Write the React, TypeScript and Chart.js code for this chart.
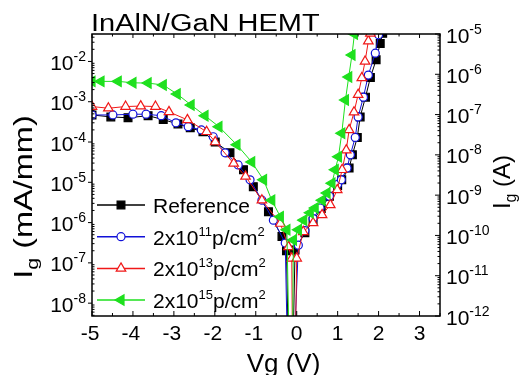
import React, { useEffect, useRef } from 'react';
import { Chart, registerables } from 'chart.js';
import { drawPoint } from 'chart.js/helpers';

Chart.register(...registerables);

const FONT = '"Liberation Sans", Arial, Helvetica, sans-serif';

// ---------- texts ----------
const TITLE = 'InAlN/GaN HEMT';
const X_TITLE = 'Vg (V)';
const Y_TITLE_LEFT = 'I_{g} (mA/mm)';
const Y_TITLE_RIGHT = 'I_{g} (A)';
const SERIES_LABELS = ['Reference', '2x10^{11}p/cm^{2}', '2x10^{13}p/cm^{2}', '2x10^{15}p/cm^{2}'];

// ---------- axes ----------
const X_MIN = -5;
const X_MAX = 3.5;
const X_TICKS = [-5, -4, -3, -2, -1, 0, 1, 2, 3];
const LEFT_MIN = 4.8e-9;
const LEFT_MAX = 4.8e-2;
const LEFT_EXP = [-8, -7, -6, -5, -4, -3, -2];
const RIGHT_MIN = 1e-12;
const RIGHT_MAX = 1e-5;
const RIGHT_EXP = [-12, -11, -10, -9, -8, -7, -6, -5];

// ---------- data (Vg in V, Ig in mA/mm) ----------
const VG_REF = [-5, -4.54, -4.12, -3.63, -3.26, -2.9, -2.6, -2.29, -1.99, -1.63, -1.3, -1.06, -0.69, -0.36, -0.25, -0.15, -0.04, 0.2, 0.4, 0.6, 0.8, 1.0, 1.1, 1.28, 1.36, 1.48, 1.55, 1.68, 1.8, 1.94, 2.04, 2.1];
const IG_REF = [4.7e-4, 4.2e-4, 4.0e-4, 4.5e-4, 3.6e-4, 2.8e-4, 2.25e-4, 1.8e-4, 1.0e-4, 5.4e-5, 2.05e-5, 7.8e-6, 1.85e-6, 4.5e-7, 2.0e-7, 1e-12, 2.1e-7, 5.6e-7, 1.1e-6, 2.25e-6, 4.5e-6, 8.3e-6, 1.15e-5, 2.25e-5, 4.8e-5, 1.3e-4, 4.2e-4, 1.3e-3, 4.0e-3, 1.1e-2, 2.8e-2, 5.0e-2];

const VG_E11 = [-5, -4.49, -4.0, -3.68, -3.31, -2.95, -2.65, -2.33, -2.04, -1.75, -1.43, -1.14, -0.85, -0.57, -0.28, -0.17, 0.04, 0.2, 0.4, 0.57, 0.8, 1.0, 1.09, 1.23, 1.31, 1.43, 1.5, 1.63, 1.75, 1.92, 2.0];
const IG_E11 = [4.7e-4, 4.7e-4, 4.9e-4, 4.9e-4, 4.5e-4, 3.0e-4, 2.4e-4, 2.0e-4, 1.35e-4, 5.4e-5, 2.7e-5, 1.15e-5, 3.6e-6, 1.15e-6, 3.1e-7, 1e-12, 2.75e-7, 6.3e-7, 1.25e-6, 2.3e-6, 4.5e-6, 8.9e-6, 1.15e-5, 2.25e-5, 4.8e-5, 1.3e-4, 4.2e-4, 1.3e-3, 4.6e-3, 1.6e-2, 4.6e-2];

const VG_E13 = [-5, -4.6, -4.18, -3.81, -3.45, -3.12, -2.67, -2.2, -1.99, -1.54, -1.25, -0.85, -0.4, -0.2, -0.12, -0.08, 0.0, 0.16, 0.4, 0.62, 0.82, 0.99, 1.11, 1.21, 1.28, 1.4, 1.5, 1.59, 1.67, 1.75, 1.8];
const IG_E13 = [7.6e-4, 6.9e-4, 7.6e-4, 7.8e-4, 7.6e-4, 5.6e-4, 3.55e-4, 1.8e-4, 1.0e-4, 2.95e-5, 1.4e-5, 3.6e-6, 9.5e-7, 2.5e-7, 1.3e-7, 1e-12, 1.3e-7, 5.9e-7, 9.8e-7, 1.55e-6, 2.75e-6, 6.5e-6, 2.05e-5, 6.3e-5, 2.0e-4, 5.5e-4, 1.5e-3, 3.9e-3, 1.0e-2, 3.2e-2, 5.0e-2];

const VG_E15 = [-5, -4.78, -4.36, -4.0, -3.63, -3.26, -2.92, -2.58, -2.24, -1.9, -1.46, -1.1, -0.81, -0.61, -0.4, -0.24, -0.13, -0.08, 0.04, 0.17, 0.33, 0.45, 0.62, 0.74, 0.86, 0.94, 1.02, 1.1, 1.19, 1.27, 1.35, 1.41];
const IG_E15 = [3.2e-3, 3.2e-3, 3.2e-3, 2.95e-3, 2.9e-3, 2.6e-3, 1.55e-3, 8.3e-4, 4.5e-4, 2.4e-4, 8.5e-5, 3.2e-5, 1.15e-5, 3.6e-6, 1.4e-6, 6.6e-7, 1e-12, 3.7e-7, 6.6e-7, 1.15e-6, 1.75e-6, 2.3e-6, 3.6e-6, 5.4e-6, 9.5e-6, 2.05e-5, 4.3e-5, 1.65e-4, 1.1e-3, 4.1e-3, 1.45e-2, 4.8e-2];

// ---------- styles ----------
const STYLES = [
  { color: '#000000', fill: '#000000', pointStyle: 'rect', radius: 5.5, rotation: 0, order: 4 },
  { color: '#1010d8', fill: '#ffffff', pointStyle: 'circle', radius: 4, rotation: 0, order: 3 },
  { color: '#f01818', fill: '#ffffff', pointStyle: 'triangle', radius: 5.5, rotation: 0, order: 2 },
  { color: '#1ee01e', fill: '#1ee01e', pointStyle: 'triangle', radius: 6, rotation: -90, order: 1 },
];

type Seg = { t: string; k: 'n' | 'sup' | 'sub' };
function parseRich(s: string): Seg[] {
  const out: Seg[] = [];
  const re = /([\^_])\{([^}]*)\}/g;
  let last = 0;
  let m: RegExpExecArray | null;
  while ((m = re.exec(s))) {
    if (m.index > last) out.push({ t: s.slice(last, m.index), k: 'n' });
    out.push({ t: m[2], k: m[1] === '^' ? 'sup' : 'sub' });
    last = re.lastIndex;
  }
  if (last < s.length) out.push({ t: s.slice(last), k: 'n' });
  return out;
}
function richWidth(ctx: CanvasRenderingContext2D, segs: Seg[], size: number, small: number) {
  let w = 0;
  for (const s of segs) {
    ctx.font = `${s.k === 'n' ? size : small}px ${FONT}`;
    w += ctx.measureText(s.t).width;
  }
  return w;
}
function drawRich(ctx: CanvasRenderingContext2D, segs: Seg[], x: number, y: number, size: number, small: number, rise: number, drop: number) {
  for (const s of segs) {
    ctx.font = `${s.k === 'n' ? size : small}px ${FONT}`;
    const dy = s.k === 'sup' ? -rise : s.k === 'sub' ? drop : 0;
    ctx.fillText(s.t, x, y + dy);
    x += ctx.measureText(s.t).width;
  }
}

const decor = {
  id: 'decor',
  afterDatasetsDraw(chart: any) {
    const ctx: CanvasRenderingContext2D = chart.ctx;
    const a = chart.chartArea;
    const xs = chart.scales.x;
    const yl = chart.scales.y;
    const yr = chart.scales.y2;
    ctx.save();
    ctx.fillStyle = '#000';
    ctx.strokeStyle = '#000';
    const seg = (x1: number, y1: number, x2: number, y2: number) => {
      ctx.beginPath();
      ctx.moveTo(x1, y1);
      ctx.lineTo(x2, y2);
      ctx.stroke();
    };
    // frame
    ctx.lineWidth = 1.5;
    ctx.strokeRect(a.left, a.top, a.right - a.left, a.bottom - a.top);
    // x ticks
    ctx.lineWidth = 1;
    for (let i = 0; i <= (X_MAX - X_MIN) * 2; i++) {
      const v = X_MIN + i * 0.5;
      const px = xs.getPixelForValue(v);
      const major = i % 2 === 0;
      seg(px, a.bottom, px, a.bottom - (major ? 5 : 3));
      seg(px, a.top, px, a.top + (major ? 4 : 2.5));
    }
    // left log ticks
    for (let k = -9; k <= -1; k++) {
      for (let m = 1; m <= 9; m++) {
        const v = m * Math.pow(10, k);
        if (v < LEFT_MIN || v > LEFT_MAX) continue;
        const py = yl.getPixelForValue(v);
        if (m === 1) seg(a.left - 4, py, a.left, py);
        else seg(a.left, py, a.left + 2.5, py);
      }
    }
    // right log ticks
    for (let k = -13; k <= -5; k++) {
      for (let m = 1; m <= 9; m++) {
        const v = m * Math.pow(10, k);
        if (v < RIGHT_MIN * 0.999 || v > RIGHT_MAX * 1.001) continue;
        const py = yr.getPixelForValue(v);
        seg(a.right - (m === 1 ? 5 : 2.5), py, a.right, py);
      }
    }
    // tick labels
    ctx.textAlign = 'left';
    ctx.textBaseline = 'alphabetic';
    for (const e of LEFT_EXP) {
      const py = yl.getPixelForValue(Math.pow(10, e));
      const segs = parseRich(`10^{${e}}`);
      const w = richWidth(ctx, segs, 21, 14);
      drawRich(ctx, segs, 86 - w, py + 8.5, 21, 14, 9, 0);
    }
    for (const e of RIGHT_EXP) {
      const py = yr.getPixelForValue(Math.pow(10, e));
      drawRich(ctx, parseRich(`10^{${e}}`), 446, py + 8.5, 21, 14, 9, 0);
    }
    ctx.textAlign = 'center';
    ctx.font = `21px ${FONT}`;
    for (const v of X_TICKS) {
      const px = xs.getPixelForValue(v);
      ctx.fillText(String(v), px - (v < 0 ? 2 : 0), 340);
    }
    // x title
    ctx.font = `26px ${FONT}`;
    ctx.fillText(X_TITLE, 283.5, 372);
    ctx.textAlign = 'left';
    // chart title
    ctx.save();
    ctx.translate(91, 31);
    ctx.scale(1.26, 1);
    ctx.font = `23px ${FONT}`;
    ctx.fillText(TITLE, 0, 0);
    ctx.restore();
    // left title
    ctx.save();
    ctx.translate(32, 197);
    ctx.rotate(-Math.PI / 2);
    ctx.scale(1.25, 1);
    {
      const segs = parseRich(Y_TITLE_LEFT);
      const w = richWidth(ctx, segs, 26, 17);
      drawRich(ctx, segs, -w / 2, 0, 26, 17, 0, 6);
    }
    ctx.restore();
    // right title
    ctx.save();
    ctx.translate(510, 182);
    ctx.rotate(-Math.PI / 2);
    {
      const segs = parseRich(Y_TITLE_RIGHT);
      const w = richWidth(ctx, segs, 24, 16);
      drawRich(ctx, segs, -w / 2, 0, 24, 16, 0, 6);
    }
    ctx.restore();
    // legend
    const ly0 = 205;
    const ldy = 31.7;
    SERIES_LABELS.forEach((lab, i) => {
      const st = STYLES[i];
      const y = ly0 + i * ldy;
      ctx.strokeStyle = st.color;
      ctx.lineWidth = 1.5;
      seg(97, y, 145, y);
      ctx.fillStyle = st.fill;
      ctx.lineWidth = 1.2;
      drawPoint(ctx, { pointStyle: st.pointStyle as any, rotation: st.rotation, radius: st.radius, borderWidth: 1.2 }, 121, y);
      ctx.fillStyle = '#000';
      drawRich(ctx, parseRich(lab), 153, y + 8, 21, 13, 9, 0);
    });
    ctx.restore();
  },
};

export default function App() {
  const ref = useRef<HTMLCanvasElement>(null);
  useEffect(() => {
    const series = [
      [VG_REF, IG_REF],
      [VG_E11, IG_E11],
      [VG_E13, IG_E13],
      [VG_E15, IG_E15],
    ];
    const datasets = series.map(([vg, ig], i) => {
      const st = STYLES[i];
      return {
        label: SERIES_LABELS[i],
        data: vg.map((x, j) => ({ x, y: ig[j] })),
        borderColor: st.color,
        backgroundColor: st.fill,
        borderWidth: 1,
        pointStyle: st.pointStyle,
        pointRotation: st.rotation,
        pointRadius: st.radius,
        pointHoverRadius: st.radius,
        pointBackgroundColor: st.fill,
        pointBorderColor: st.color,
        pointBorderWidth: 1.2,
        tension: 0,
        order: st.order,
        yAxisID: 'y',
      };
    });
    const chart = new Chart(ref.current as HTMLCanvasElement, {
      type: 'line',
      data: { datasets: datasets as any },
      plugins: [decor],
      options: {
        responsive: false,
        animation: false,
        devicePixelRatio: 1,
        layout: { padding: { top: 34, left: 0, right: 0, bottom: 0 } },
        plugins: { legend: { display: false }, title: { display: false }, tooltip: { enabled: false } },
        events: [],
        scales: {
          x: {
            type: 'linear',
            min: X_MIN,
            max: X_MAX,
            ticks: { display: false },
            grid: { display: false },
            border: { display: false },
            afterFit: (s: any) => { s.height = 59; },
          },
          y: {
            type: 'logarithmic',
            position: 'left',
            min: LEFT_MIN,
            max: LEFT_MAX,
            ticks: { display: false },
            grid: { display: false },
            border: { display: false },
            afterFit: (s: any) => { s.width = 92; },
          },
          y2: {
            type: 'logarithmic',
            position: 'right',
            min: RIGHT_MIN,
            max: RIGHT_MAX,
            ticks: { display: false },
            grid: { display: false },
            border: { display: false },
            afterFit: (s: any) => { s.width = 80; },
          },
        },
      } as any,
    });
    return () => chart.destroy();
  }, []);
  return (
    <div style={{ position: 'fixed', left: 0, top: 0, width: 520, height: 375, background: '#ffffff' }}>
      <canvas ref={ref} width={520} height={375} style={{ display: 'block' }} />
    </div>
  );
}
